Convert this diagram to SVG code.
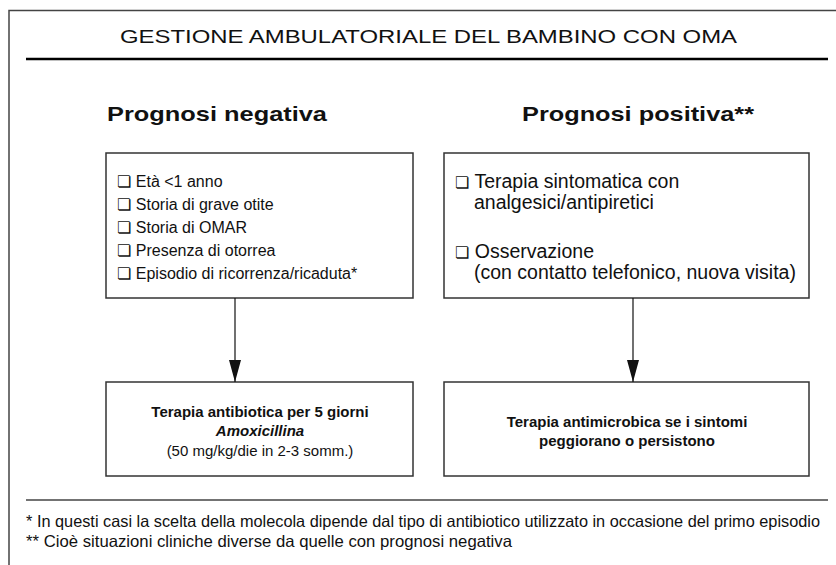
<svg xmlns="http://www.w3.org/2000/svg" width="836" height="565" viewBox="0 0 836 565">
<style>
.frame{fill:none;stroke:#444;stroke-width:1.5}
.box{fill:#fff;stroke:#333;stroke-width:1.5}
.t{font-family:"Liberation Sans",Arial,sans-serif;fill:#111}
.body{font-size:16px}
.body2{font-size:19.5px}
.head{font-size:21px;font-weight:bold}
.b{font-size:15px;font-weight:bold;text-anchor:middle}
.cb{font-family:"DejaVu Sans",sans-serif}
.conn{stroke:#111;stroke-width:1.2;fill:none}
.foot{font-size:16.5px}
</style>
<defs>
<marker id="arr" markerWidth="22" markerHeight="12" refX="22" refY="6" orient="auto" markerUnits="userSpaceOnUse" viewBox="0 0 22 12">
<path d="M0,0 L22,6 L0,12 Z" fill="#111"/>
</marker>
</defs>
<rect width="836" height="565" fill="#fff"/>
<path class="frame" d="M9,565 V10.5 H836"/>
<text class="t" x="120" y="43" font-size="19" fill="#222" textLength="617" lengthAdjust="spacingAndGlyphs">GESTIONE AMBULATORIALE DEL BAMBINO CON OMA</text>
<line x1="26" y1="59" x2="828" y2="59" stroke="#000" stroke-width="2.5"/>
<text class="t head" x="107" y="121" textLength="220" lengthAdjust="spacingAndGlyphs">Prognosi negativa</text>
<text class="t head" x="522" y="121" textLength="232" lengthAdjust="spacingAndGlyphs">Prognosi positiva**</text>

<g id="neg">
<rect class="box" x="106" y="153" width="307" height="145"/>
<text class="t body" x="117" y="187"><tspan class="cb">❏</tspan> Età &lt;1 anno</text>
<text class="t body" x="117" y="210"><tspan class="cb">❏</tspan> Storia di grave otite</text>
<text class="t body" x="117" y="233"><tspan class="cb">❏</tspan> Storia di OMAR</text>
<text class="t body" x="117" y="256"><tspan class="cb">❏</tspan> Presenza di otorrea</text>
<text class="t body" x="117" y="279"><tspan class="cb">❏</tspan> Episodio di ricorrenza/ricaduta*</text>
</g>
<g id="pos">
<rect class="box" x="444" y="153" width="365" height="145"/>
<text class="t body2" x="455" y="188"><tspan class="cb" font-size="16">❏</tspan> Terapia sintomatica con</text>
<text class="t body2" x="474" y="209">analgesici/antipiretici</text>
<text class="t body2" x="455" y="258"><tspan class="cb" font-size="16">❏</tspan> Osservazione</text>
<text class="t body2" x="474" y="279">(con contatto telefonico, nuova visita)</text>
</g>
<g id="ant">
<rect class="box" x="106" y="382" width="307" height="94"/>
<text class="t b" x="260" y="417">Terapia antibiotica per 5 giorni</text>
<text class="t b" x="260" y="436" font-style="italic">Amoxicillina</text>
<text class="t" x="260" y="456" font-size="15" text-anchor="middle">(50 mg/kg/die in 2-3 somm.)</text>
</g>
<g id="antim">
<rect class="box" x="444" y="382" width="365" height="94"/>
<text class="t b" x="627" y="427">Terapia antimicrobica se i sintomi</text>
<text class="t b" x="627" y="446">peggiorano o persistono</text>
</g>
<g id="connectors">
<line class="conn" x1="235" y1="298" x2="235" y2="382" marker-end="url(#arr)"/>
<line class="conn" x1="633" y1="298" x2="633" y2="382" marker-end="url(#arr)"/>
</g>
<line x1="26" y1="500" x2="828" y2="500" stroke="#444" stroke-width="1.5"/>
<text class="t foot" x="26" y="527" textLength="794" lengthAdjust="spacingAndGlyphs">* In questi casi la scelta della molecola dipende dal tipo di antibiotico utilizzato in occasione del primo episodio</text>
<text class="t foot" x="26" y="547" textLength="486" lengthAdjust="spacingAndGlyphs">** Cioè situazioni cliniche diverse da quelle con prognosi negativa</text>
</svg>
